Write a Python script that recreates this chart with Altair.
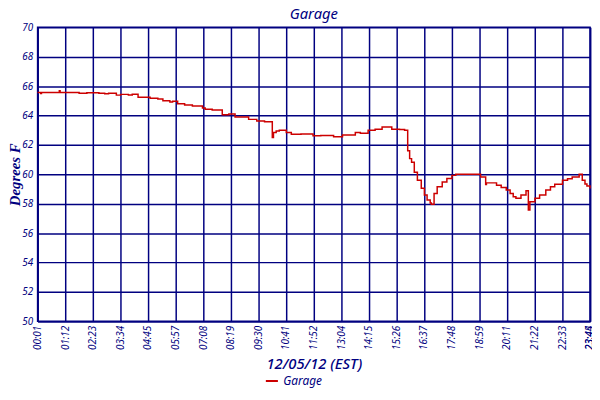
import altair as alt
import pandas as pd

NAVY = "#000080"
RED = "#CC0000"

# Clock times (12/05/12) and garage temperatures (deg F)
times = ["00:01", "00:09", "00:11", "00:57", "00:59", "01:48", "02:08", "02:39", "02:54", "03:04",
         "03:24", "03:35", "03:55", "04:05", "04:20", "04:51", "05:11", "05:24", "05:42", "05:49",
         "06:02", "06:20", "06:40", "07:06", "07:13", "07:31", "07:57", "08:14", "08:30", "09:05",
         "09:26", "09:46", "10:06", "10:09", "10:16", "10:24", "10:42", "10:55", "11:20", "11:51",
         "12:11", "12:44", "13:07", "13:40", "13:53", "14:13", "14:31", "14:49", "15:14", "15:34",
         "15:47", "15:55", "16:00", "16:05", "16:12", "16:20", "16:30", "16:38", "16:45", "16:53",
         "16:56", "17:03", "17:11", "17:24", "17:36", "17:49", "17:59", "19:03", "19:16", "19:18",
         "19:44", "19:56", "20:09", "20:19", "20:27", "20:34", "20:47", "21:00", "21:05", "21:06",
         "21:10", "21:23", "21:35", "21:51", "22:03", "22:14", "22:34", "22:47", "22:59", "23:17",
         "23:25", "23:32", "23:37", "23:45"]
temps = [65.57, 65.50, 65.57, 65.68, 65.57, 65.52, 65.55, 65.52, 65.48, 65.52,
         65.39, 65.44, 65.40, 65.45, 65.25, 65.17, 65.13, 65.01, 64.92, 64.97,
         64.80, 64.72, 64.65, 64.52, 64.43, 64.38, 64.05, 64.10, 63.90, 63.74,
         63.63, 63.58, 62.50, 62.85, 62.95, 63.00, 62.84, 62.73, 62.75, 62.62,
         62.65, 62.55, 62.68, 62.84, 62.80, 63.00, 63.07, 63.22, 63.07, 63.05,
         63.00, 61.60, 61.07, 60.83, 60.15, 59.60, 59.06, 58.60, 58.26, 58.05,
         57.97, 58.70, 59.15, 59.48, 59.71, 59.93, 60.00, 59.82, 59.30, 59.42,
         59.26, 59.10, 58.93, 58.70, 58.48, 58.37, 58.60, 58.88, 58.88, 57.58,
         58.14, 58.37, 58.60, 58.93, 59.15, 59.33, 59.60, 59.70, 59.82, 60.00,
         59.60, 59.35, 59.20, 59.04]

x_tick_labels = ["00:01", "01:12", "02:23", "03:34", "04:45", "05:57", "07:08", "08:19",
                 "09:30", "10:41", "11:52", "13:04", "14:15", "15:26", "16:37", "17:48",
                 "18:59", "20:11", "21:22", "22:33", "23:44", "23:45"]
y_ticks = [50, 52, 54, 56, 58, 60, 62, 64, 66, 68, 70]
series_name = "Garage"


def to_min(s):
    h, m = s.split(":")
    return int(h) * 60 + int(m)


df = pd.DataFrame({
    "minute": [to_min(t) for t in times],
    "temp": temps,
    "series": [series_name] * len(times),
})

x_tick_vals = [to_min(t) for t in x_tick_labels]
label_expr = "{" + ", ".join(f"'{v}': '{l}'" for v, l in zip(x_tick_vals, x_tick_labels)) + "}[datum.value]"

FONT = "Noto Sans"
common_axis = dict(
    grid=True, gridColor=NAVY, gridWidth=1.5, gridOpacity=1,
    domainColor=NAVY, domainWidth=1.5, ticks=False,
    labelFont=FONT, labelFontSize=10, labelFontStyle="italic", labelColor=NAVY,
    labelOverlap=False, labelFlush=False,
)

chart = alt.Chart(df).mark_line(interpolate="step-after", strokeWidth=1.5).encode(
    x=alt.X(
        "minute:Q",
        scale=alt.Scale(domain=[x_tick_vals[0], x_tick_vals[-1]], nice=False, zero=False),
        axis=alt.Axis(
            values=x_tick_vals, labelExpr=label_expr, labelAngle=270, labelBound=False,
            title="12/05/12 (EST)", titleY=43, titleBaseline="middle",
            titleFont=FONT, titleFontSize=15, titleFontStyle="italic", titleFontWeight=500,
            titleColor=NAVY, labelPadding=4, **common_axis,
        ),
    ),
    y=alt.Y(
        "temp:Q",
        scale=alt.Scale(domain=[50, 70], nice=False, zero=False),
        axis=alt.Axis(
            values=y_ticks, labelPadding=5,
            title="Degrees F", titleX=-18, titleY=149, titleAngle=270,
            titleBaseline="alphabetic", titleAlign="center",
            titleFont="Liberation Serif", titleFontSize=15, titleFontStyle="italic",
            titleFontWeight="bold", titleColor=NAVY, **common_axis,
        ),
    ),
    color=alt.Color(
        "series:N",
        scale=alt.Scale(range=[RED]),
        legend=alt.Legend(
            title=None, orient="none", legendX=230, legendY=351,
            symbolType="stroke", symbolSize=150, symbolStrokeWidth=2,
            labelFont=FONT, labelFontSize=12, labelFontStyle="italic",
            labelColor=NAVY, padding=0,
        ),
    ),
).properties(
    width=560,
    height=298,
    background="white",
    title=alt.TitleParams(
        "Garage", font=FONT, fontSize=15, fontStyle="italic", fontWeight="normal",
        color=NAVY, anchor="middle", offset=0,
    ),
    autosize=alt.AutoSizeParams(type="none"),
    padding={"left": 30, "top": 17, "right": 2, "bottom": 68},
).configure_view(
    stroke=NAVY, strokeWidth=1.5,
)

chart.save("out.html", embed_options={"renderer": "svg", "actions": False})
